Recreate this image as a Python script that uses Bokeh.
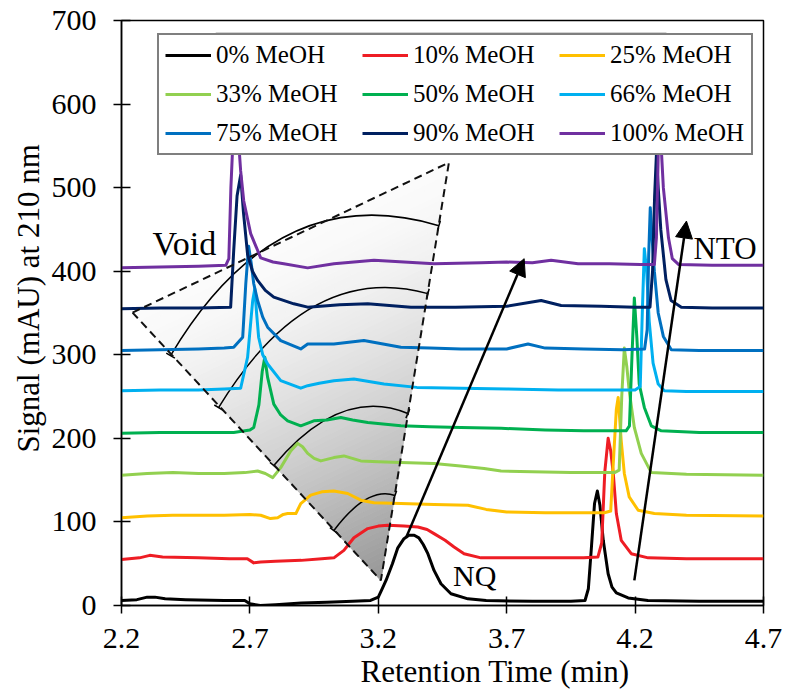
import numpy as np
from bokeh.plotting import figure
from bokeh.models import (Range1d, FixedTicker, Legend, LegendItem, Label,
                          Arrow, NormalHead, Title)
from bokeh.embed import file_html
from bokeh.resources import INLINE

# ---------------- data ----------------
series_names = ["0% MeOH", "10% MeOH", "25% MeOH",
                "33% MeOH", "50% MeOH", "66% MeOH",
                "75% MeOH", "90% MeOH", "100% MeOH"]
series_colors = ["#000000", "#EE1D24", "#FFC000",
                 "#92D050", "#00B050", "#00B0F0",
                 "#0070C0", "#002060", "#7030A0"]

x_0 = [2.20, 2.26, 2.30, 2.33, 2.37, 2.45, 2.60, 2.68, 2.70, 2.74, 2.80, 2.90, 3.00, 3.10, 3.17, 3.20,
       3.215, 3.23, 3.255, 3.276, 3.30, 3.319, 3.34, 3.358, 3.375, 3.393, 3.417, 3.444, 3.483, 3.549,
       3.62, 3.80, 3.95, 4.005, 4.018, 4.03, 4.042, 4.053, 4.063, 4.076, 4.095, 4.11, 4.127, 4.173,
       4.25, 4.45, 4.70]
y_0 = [6, 7, 10, 10, 8, 7, 6, 6, 2, 0, 1, 3, 4, 5, 6, 10,
       20, 30, 50, 69, 80, 84, 84, 81, 73, 62, 42, 26, 14, 8,
       6, 5, 5, 6, 20, 70, 122, 137, 120, 78, 38, 22, 15, 9,
       6, 5, 5]

x_10 = [2.20, 2.27, 2.31, 2.36, 2.50, 2.62, 2.69, 2.715, 2.742, 2.80, 2.90, 2.98, 3.027, 3.066, 3.105,
        3.159, 3.20, 3.237, 3.30, 3.354, 3.39, 3.417, 3.46, 3.495, 3.534, 3.60, 3.75, 3.90, 4.00, 4.055,
        4.07, 4.082, 4.095, 4.105, 4.115, 4.127, 4.146, 4.185, 4.251, 4.40, 4.70]
y_10 = [55, 57, 60, 58, 57, 56, 56, 51, 52, 53, 54, 56, 57, 66, 81,
        92, 95, 96, 95, 94, 91, 86, 78, 70, 62, 57, 57, 57, 57, 58,
        75, 160, 200, 185, 158, 110, 78, 62, 57, 56, 56]

x_25 = [2.20, 2.30, 2.40, 2.50, 2.60, 2.70, 2.742, 2.78, 2.808, 2.83, 2.847, 2.879, 2.898, 2.937, 2.98,
        3.027, 3.081, 3.132, 3.183, 3.288, 3.417, 3.549, 3.62, 3.70, 3.85, 4.00, 4.08, 4.105, 4.115,
        4.127, 4.134, 4.146, 4.158, 4.177, 4.212, 4.275, 4.40, 4.70]
y_25 = [105, 107, 108, 108, 108, 109, 108, 104, 105, 109, 110, 110, 122, 132, 136,
        137, 134, 126, 123, 122, 121, 120, 115, 112, 111, 111, 111, 113, 170,
        235, 249, 197, 158, 130, 114, 110, 108, 107]

x_33 = [2.20, 2.30, 2.40, 2.50, 2.60, 2.68, 2.73, 2.76, 2.789, 2.82, 2.859, 2.886, 2.905, 2.925, 2.95,
        2.976, 3.027, 3.066, 3.132, 3.20, 3.288, 3.417, 3.52, 3.612, 3.678, 3.80, 3.95, 4.05, 4.12,
        4.138, 4.148, 4.158, 4.168, 4.177, 4.197, 4.224, 4.263, 4.40, 4.70]
y_33 = [156, 158, 159, 158, 158, 159, 161, 158, 153, 165, 185, 194, 190, 182, 176,
        173, 177, 179, 173, 172, 171, 170, 167, 164, 161, 160, 159, 159, 159,
        162, 250, 308, 285, 257, 213, 182, 159, 157, 156]

x_50 = [2.20, 2.35, 2.50, 2.637, 2.70, 2.715, 2.735, 2.748, 2.758, 2.769, 2.793, 2.82, 2.847, 2.898,
        2.949, 3.00, 3.054, 3.10, 3.159, 3.288, 3.40, 3.522, 3.678, 3.85, 4.00, 4.10, 4.165, 4.178,
        4.188, 4.197, 4.207, 4.216, 4.236, 4.263, 4.302, 4.45, 4.70]
y_50 = [206, 207, 207, 207, 210, 213, 240, 280, 297, 273, 241, 228, 221, 215,
        221, 222, 225, 222, 219, 215, 214, 213, 212, 210, 209, 209, 209, 215,
        300, 368, 320, 265, 237, 215, 209, 207, 207]

x_66 = [2.20, 2.35, 2.50, 2.60, 2.664, 2.691, 2.705, 2.711, 2.719, 2.726, 2.734, 2.75, 2.769, 2.82,
        2.898, 2.925, 2.97, 3.027, 3.105, 3.222, 3.35, 3.522, 3.70, 3.90, 4.10, 4.20, 4.22, 4.228,
        4.236, 4.245, 4.255, 4.27, 4.29, 4.314, 4.40, 4.70]
y_66 = [257, 258, 258, 259, 260, 297, 345, 365, 379, 350, 321, 300, 289, 269,
        260, 263, 266, 269, 271, 265, 261, 260, 259, 258, 258, 258, 262, 350,
        427, 400, 340, 290, 265, 257, 256, 256]

x_75 = [2.20, 2.35, 2.50, 2.60, 2.637, 2.672, 2.684, 2.695, 2.705, 2.715, 2.730, 2.75, 2.769, 2.82,
        2.898, 2.925, 3.027, 3.144, 3.288, 3.40, 3.522, 3.70, 3.783, 3.85, 4.00, 4.15, 4.237, 4.247,
        4.253, 4.259, 4.266, 4.275, 4.29, 4.31, 4.341, 4.45, 4.70]
y_75 = [305, 306, 307, 308, 309, 321, 385, 430, 410, 385, 365, 345, 333, 317,
        307, 313, 313, 317, 309, 308, 307, 307, 313, 308, 307, 306, 307, 330,
        420, 476, 440, 400, 350, 322, 306, 305, 305]

x_90 = [2.20, 2.35, 2.50, 2.625, 2.637, 2.650, 2.664, 2.675, 2.691, 2.71, 2.730, 2.76, 2.793, 2.871,
        2.925, 3.05, 3.159, 3.327, 3.50, 3.70, 3.834, 3.912, 4.068, 4.20, 4.258, 4.268, 4.276, 4.283,
        4.29, 4.30, 4.32, 4.34, 4.38, 4.50, 4.70]
y_90 = [355, 356, 356, 357, 425, 490, 515, 470, 420, 400, 389, 377, 369, 361,
        357, 360, 361, 357, 357, 358, 365, 359, 358, 357, 357, 400, 490, 540,
        500, 450, 390, 365, 357, 356, 356]

x_100 = [2.20, 2.35, 2.50, 2.606, 2.618, 2.626, 2.636, 2.648, 2.655, 2.664, 2.676, 2.703, 2.742, 2.79,
         2.832, 2.925, 3.027, 3.183, 3.417, 3.60, 3.70, 3.80, 3.873, 3.978, 4.10, 4.22, 4.275, 4.283,
         4.29, 4.298, 4.31, 4.33, 4.345, 4.37, 4.50, 4.70]
y_100 = [404, 405, 406, 407, 415, 500, 570, 575, 560, 520, 484, 445, 416, 411,
         409, 404, 409, 413, 409, 410, 411, 410, 413, 409, 409, 408, 408, 440,
         540, 570, 500, 440, 415, 408, 407, 407]

series_x = [x_0, x_10, x_25, x_33, x_50, x_66, x_75, x_90, x_100]
series_y = [y_0, y_10, y_25, y_33, y_50, y_66, y_75, y_90, y_100]

x_ticks = [2.2, 2.7, 3.2, 3.7, 4.2, 4.7]
x_tick_labels = ["2.2", "2.7", "3.2", "3.7", "4.2", "4.7"]
y_ticks = [0, 100, 200, 300, 400, 500, 600, 700]

# annotation geometry (data units): shaded sector L, T, B vertices
sector_x = [2.243, 3.475, 3.210]
sector_y = [350.5, 530.0, 30.0]
arc_x0 = [3.027, 2.793, 2.578, 2.391]
arc_y0 = [89.7, 167.5, 236.8, 299.0]
arc_cx = [3.157, 3.054, 2.927, 2.805]
arc_cy = [142.9, 263.2, 412.7, 513.2]
arc_x1 = [3.265, 3.315, 3.393, 3.436]
arc_y1 = [131.6, 229.7, 373.2, 454.5]
arrow_x0 = [3.308, 4.197]
arrow_y0 = [81.0, 30.0]
arrow_x1 = [3.768, 4.400]
arrow_y1 = [415.0, 460.0]
note_x = [2.321, 3.491, 4.427]
note_y = [433.0, 36.0, 427.0]
note_text = ["Void", "NQ", "NTO"]
note_size = ["34px", "30px", "31px"]

FONT = "Liberation Serif"

p = figure(width=786, height=692, x_range=Range1d(2.2, 4.7), y_range=Range1d(0, 700),
           output_backend="svg", toolbar_location=None,
           min_border_left=121, min_border_right=23, min_border_top=20, min_border_bottom=87)
p.background_fill_color = "white"
p.border_fill_color = "white"
p.outline_line_color = "black"
p.outline_line_width = 1.5
p.xgrid.grid_line_color = None
p.ygrid.grid_line_color = None

# shaded sector (gradient from the bottom vertex)
Lx, Tx, Bx = sector_x
Ly, Ty, By = sector_y
N = 70
band_xs, band_ys, band_cols = [], [], []
for i in range(N):
    t0, t1 = i / N, (i + 1) / N
    band_xs.append([Bx + t0 * (Lx - Bx), Bx + t1 * (Lx - Bx), Bx + t1 * (Tx - Bx), Bx + t0 * (Tx - Bx)])
    band_ys.append([By + t0 * (Ly - By), By + t1 * (Ly - By), By + t1 * (Ty - By), By + t0 * (Ty - By)])
    tm = (t0 + t1) / 2
    g = 0.985 - 0.40 * (1 - tm) ** 1.5
    v = int(round(g * 255))
    band_cols.append("#%02x%02x%02x" % (v, v, v))
p.patches(band_xs, band_ys, fill_color=band_cols, line_color=band_cols, line_width=1)

# arcs with small end ticks
sx = 642 / 2.5
sy = 585 / 700
for i in range(len(arc_x0)):
    p.quadratic(x0=arc_x0[i], y0=arc_y0[i], x1=arc_x1[i], y1=arc_y1[i],
                cx=arc_cx[i], cy=arc_cy[i], line_color="black", line_width=1.5)
    for (ex, ey, tx, ty) in [(arc_x0[i], arc_y0[i], arc_cx[i] - arc_x0[i], arc_cy[i] - arc_y0[i]),
                             (arc_x1[i], arc_y1[i], arc_x1[i] - arc_cx[i], arc_y1[i] - arc_cy[i])]:
        px, py = tx * sx, ty * sy
        n = (px ** 2 + py ** 2) ** 0.5
        nx, ny = -py / n * 5, px / n * 5
        p.segment(x0=ex - nx / sx, y0=ey - ny / sy, x1=ex + nx / sx, y1=ey + ny / sy,
                  line_color="black", line_width=1.5)

# chromatograms
renderers = []
for xs, ys, c in zip(series_x, series_y, series_colors):
    r = p.line(xs, ys, line_color=c, line_width=3, line_join="round")
    renderers.append(r)

# dashed sector outline
p.line(sector_x + [sector_x[0]], sector_y + [sector_y[0]], line_color="#111111",
       line_width=2, line_dash="8 5")

# faint gray line near top
p.segment(x0=2.567, y0=685.4, x1=4.322, y1=685.4, line_color="#c8c8c8", line_width=1)

# arrows
for i in range(len(arrow_x0)):
    p.add_layout(Arrow(end=NormalHead(size=17, fill_color="black", line_color="black"),
                       x_start=arrow_x0[i], y_start=arrow_y0[i],
                       x_end=arrow_x1[i], y_end=arrow_y1[i],
                       line_color="black", line_width=2.5))

# annotations
for lx, ly, txt, fs in zip(note_x, note_y, note_text, note_size):
    p.add_layout(Label(x=lx, y=ly, text=txt, text_font=FONT, text_font_size=fs,
                       text_font_style="normal", text_color="black",
                       text_baseline="alphabetic", text_align="left"))

# axis titles
p.add_layout(Title(text="Retention Time (min)", text_font=FONT, text_font_size="31px",
                   text_font_style="normal", text_color="black", align="left", offset=239,
                   standoff=3), "below")
p.add_layout(Title(text="Signal (mAU) at 210 nm", text_font=FONT, text_font_size="31px",
                   text_font_style="normal", text_color="black", align="left", offset=153,
                   standoff=6), "left")

p.xaxis.ticker = FixedTicker(ticks=x_ticks)
p.xaxis.major_label_overrides = {t: l for t, l in zip(x_ticks, x_tick_labels)}
p.yaxis.ticker = FixedTicker(ticks=y_ticks)
for ax in (p.xaxis[0], p.yaxis[0]):
    ax.axis_line_color = "black"
    ax.axis_line_width = 1.5
    ax.major_tick_line_color = "black"
    ax.major_tick_line_width = 1.5
    ax.major_tick_in = 9
    ax.major_tick_out = 8
    ax.minor_tick_line_color = None
    ax.major_label_text_font = FONT
    ax.major_label_text_font_style = "normal"
    ax.major_label_text_font_size = "30px"
    ax.major_label_text_color = "black"
p.xaxis.major_label_standoff = 15
p.yaxis.major_label_standoff = 17

# legend
items = [LegendItem(label=n, renderers=[r]) for n, r in zip(series_names, renderers)]
legend = Legend(items=items, orientation="horizontal", ncols=3, location=(36, 450),
                label_text_font=FONT, label_text_font_style="normal",
                label_text_font_size="25px", label_text_color="black",
                glyph_width=46, glyph_height=28, label_height=28, label_width=135,
                label_standoff=5, spacing=11, padding=6, margin=0,
                border_line_color="black", border_line_width=2,
                background_fill_color="white", background_fill_alpha=1.0)
p.add_layout(legend)

open("out.html", "w").write(file_html(p, INLINE))
